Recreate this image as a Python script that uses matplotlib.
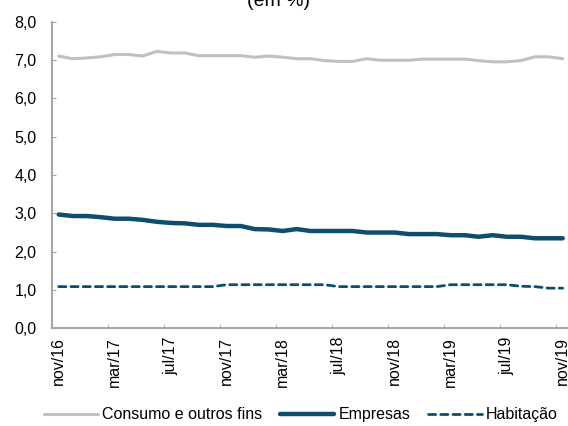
import matplotlib
matplotlib.use('Agg')
import matplotlib.pyplot as plt
import numpy as np

plt.rcParams['font.family'] = ['Liberation Sans', 'DejaVu Sans']

# --- data (monthly, nov/16 .. nov/19) --- #
tick_labels = ['nov/16', 'mar/17', 'jul/17', 'nov/17', 'mar/18',
               'jul/18', 'nov/18', 'mar/19', 'jul/19', 'nov/19']

consumo = [7.10, 7.03, 7.05, 7.08, 7.14, 7.14, 7.10, 7.22, 7.18, 7.18,
           7.11, 7.11, 7.11, 7.11, 7.07, 7.10, 7.07, 7.03, 7.03, 6.98,
           6.96, 6.96, 7.03, 6.99, 6.99, 6.99, 7.02, 7.02, 7.02, 7.02,
           6.98, 6.95, 6.95, 6.98, 7.08, 7.08, 7.03]
empresas = [2.97, 2.93, 2.93, 2.90, 2.86, 2.86, 2.83, 2.78, 2.75, 2.74,
            2.70, 2.70, 2.67, 2.67, 2.59, 2.58, 2.54, 2.59, 2.54, 2.54,
            2.54, 2.54, 2.50, 2.50, 2.50, 2.46, 2.46, 2.46, 2.43, 2.43,
            2.39, 2.43, 2.39, 2.39, 2.35, 2.35, 2.35]
habitacao = [1.09, 1.09, 1.09, 1.09, 1.09, 1.09, 1.09, 1.09, 1.09, 1.09,
             1.09, 1.09, 1.14, 1.14, 1.14, 1.14, 1.14, 1.14, 1.14, 1.14,
             1.09, 1.09, 1.09, 1.09, 1.09, 1.09, 1.09, 1.09, 1.14, 1.14,
             1.14, 1.14, 1.14, 1.10, 1.09, 1.05, 1.05]

grey = '#c0c0c0'
blue = '#0d4d6d'
axis_col = '#a6a6a6'

x = np.arange(len(consumo))

fig = plt.figure(figsize=(5.68, 4.26), dpi=100)
ax = fig.add_axes([0.091, 0.229, 0.912, 0.7205])

ax.plot(x, consumo, color=grey, lw=2.2, solid_capstyle='round', label='Consumo e outros fins')
ax.plot(x, empresas, color=blue, lw=3.2, solid_capstyle='round', label='Empresas')
ax.plot(x, habitacao, color=blue, lw=2.0, ls=(0, (2.6, 1.8)), dash_capstyle='round', label='Habitação')

ax.set_xlim(-0.5, len(x) - 0.5)
ax.set_ylim(0, 8)

ax.set_yticks(np.arange(0, 8.1, 1))
ax.set_yticklabels([f'{v:.1f}'.replace('.', ',') for v in np.arange(0, 8.1, 1)])

ax.set_xticks(np.arange(0, len(x), 4))
ax.set_xticklabels(tick_labels, rotation=90)
ax.set_xticks(np.arange(3.5, len(x) - 0.5, 4), minor=True)

ax.tick_params(axis='y', direction='in', length=3, color=axis_col, labelsize=11.5, pad=11)
ax.tick_params(axis='x', which='major', length=0, labelsize=11.5, pad=6)
ax.tick_params(axis='x', which='minor', direction='in', length=3, color=axis_col)

for s in ['top', 'right']:
    ax.spines[s].set_visible(False)
for s in ['left', 'bottom']:
    ax.spines[s].set_color(axis_col)
    ax.spines[s].set_linewidth(1.5)

fig.text(0.49, 0.986, '(em %)', ha='center', va='baseline', fontsize=14)

fig.legend(loc='center', bbox_to_anchor=(0.53, 0.026), ncol=3, frameon=False,
           fontsize=11.5, handlelength=3.4, handletextpad=0.25, columnspacing=1.1,
           borderpad=0, borderaxespad=0)

fig.savefig('out.png', dpi=100)
